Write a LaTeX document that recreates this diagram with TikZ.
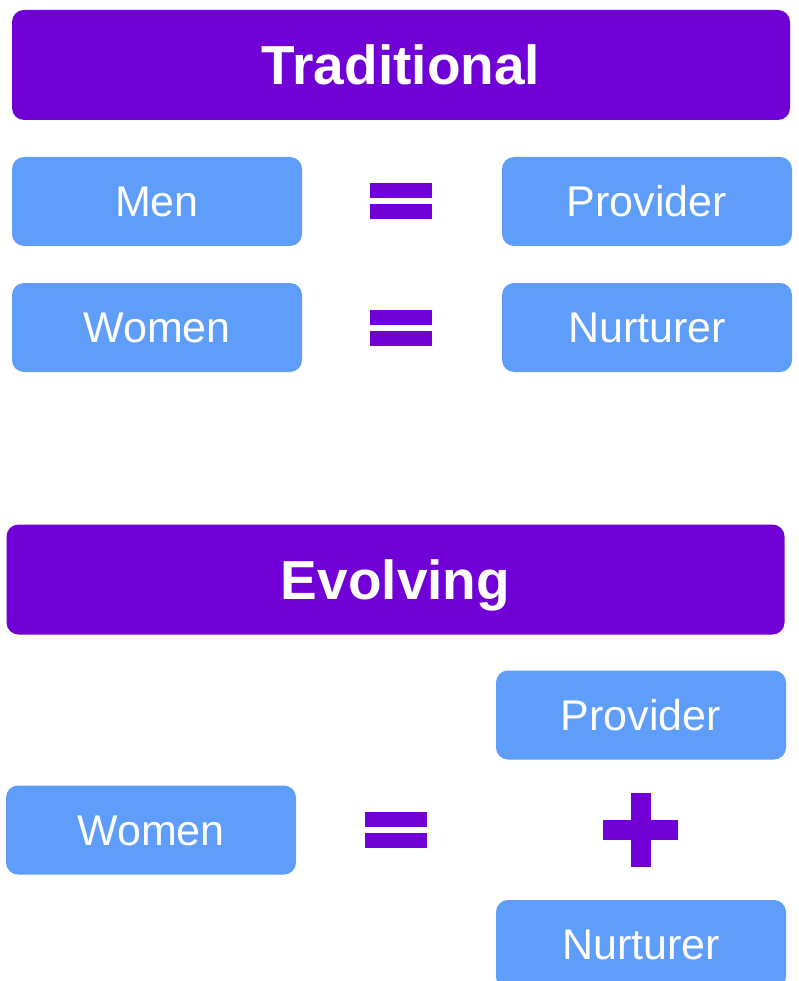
\documentclass[tikz,border=0pt]{standalone}
\usepackage{fontspec}
\setmainfont{Liberation Sans}
\usetikzlibrary{positioning}
\definecolor{RolePurple}{HTML}{7000D6}
\definecolor{RoleBlue}{HTML}{5F9DFA}

\tikzset{
  header/.style={
    rounded corners=12pt,
    fill=RolePurple,
    text=white,
    minimum width=778pt,
    minimum height=110pt,
    inner sep=0pt,
    text height=39.5pt,
    text depth=0pt,
    font=\fontsize{55}{60}\selectfont\bfseries
  },
  role/.style={
    rounded corners=12pt,
    fill=RoleBlue,
    text=white,
    minimum width=290pt,
    minimum height=89pt,
    inner sep=0pt,
    text height=30.5pt,
    text depth=0pt,
    font=\fontsize{43}{48}\selectfont
  },
  sign/.style={fill=RolePurple}
}

\begin{document}
\begin{tikzpicture}[x=1pt,y=-1pt]
  \useasboundingbox[fill=white] (0,0) rectangle (798,981);

  % traditional roles
  \node[header] (trad) at (401,65) {Traditional};
  \node[role] (men) at (157,201.5) {Men};
  \node[role] (menrole) at (647,201.5) {Provider};
  \node[role] (women) at (157,327.5) {Women};
  \node[role] (womenrole) at (647,327.5) {Nurturer};

  % evolving roles
  \node[header] (evol) at (395.5,579.5) {Evolving};
  \node[role] (provider) at (641,715) {Provider};
  \node[role] (evwomen) at (151,830) {Women};
  \node[role] (nurturer) at (641,944.5) {Nurturer};

  % equal signs
  \foreach \x/\y in {401/201, 401/327.5, 395.5/830} {
    \fill[sign] (\x-31,\y-18) rectangle (\x+31,\y-3);
    \fill[sign] (\x-31,\y+3) rectangle (\x+31,\y+18);
  }

  % plus sign
  \fill[sign] (603,820) rectangle (678,840);
  \fill[sign] (631,793) rectangle (651,867);
\end{tikzpicture}
\end{document}
